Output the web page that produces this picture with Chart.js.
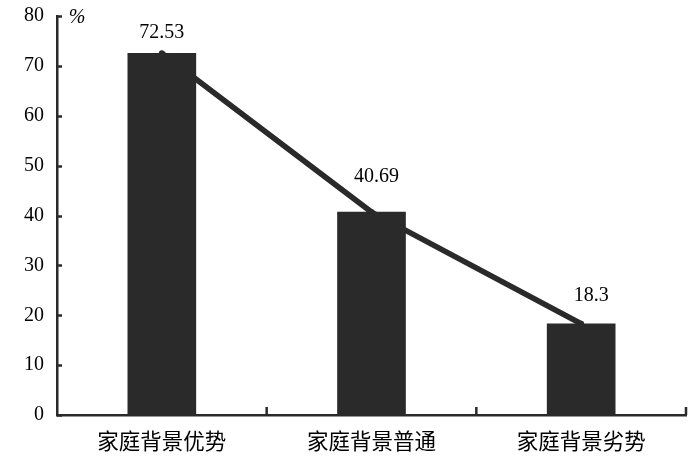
<!DOCTYPE html>
<html>
<head>
<meta charset="utf-8">
<script src="https://cdn.jsdelivr.net/npm/chart.js@4.4.0/dist/chart.umd.min.js"></script>
<style>
  html, body { margin: 0; padding: 0; background: #fff; }
  #wrap { width: 700px; height: 467px; }
</style>
</head>
<body>
<div id="wrap"><canvas id="chart" width="700" height="467"></canvas></div>
<script>
// Data
const categories = ['家庭背景优势', '家庭背景普通', '家庭背景劣势'];
const shares = [72.53, 40.69, 18.3];
const valueLabels = ['72.53', '40.69', '18.3'];
const yTicks = [0, 10, 20, 30, 40, 50, 60, 70, 80];

const ink = '#2a2a2a';
const serif = '"Liberation Serif", "Times New Roman", serif';

// Value labels above bars, "%" unit and inward tick marks
const decorations = {
  id: 'decorations',
  afterDatasetsDraw(chart, args, opts) {
    const ctx = chart.ctx;
    const x = chart.scales.x;
    const y = chart.scales.y;
    const area = chart.chartArea;
    ctx.save();

    // tick marks pointing into the plot
    ctx.strokeStyle = ink;
    ctx.lineWidth = 2.5;
    yTicks.forEach(v => {
      const py = Math.round(y.getPixelForValue(v)) + 0.5;
      ctx.beginPath();
      ctx.moveTo(area.left, py);
      ctx.lineTo(area.left + 5, py);
      ctx.stroke();
    });
    for (let i = 1; i <= categories.length; i++) {
      const px = x.getPixelForValue(i - 0.5);
      ctx.beginPath();
      ctx.moveTo(px, area.bottom);
      ctx.lineTo(px, area.bottom - 8);
      ctx.stroke();
    }

    // value labels
    ctx.fillStyle = '#000';
    ctx.font = '20px ' + serif;
    ctx.textAlign = 'center';
    ctx.textBaseline = 'middle';
    shares.forEach((v, i) => {
      const px = x.getPixelForValue(i) + opts.dx[i];
      const py = y.getPixelForValue(v) + opts.dy[i];
      ctx.fillText(valueLabels[i], px, py);
    });

    // unit
    ctx.font = 'italic 20px ' + serif;
    ctx.fillText('%', area.left + 20, area.top + 2);
    ctx.restore();
  }
};

new Chart(document.getElementById('chart'), {
  type: 'bar',
  data: {
    labels: categories,
    datasets: [
      {
        type: 'line',
        data: shares,
        borderColor: ink,
        borderWidth: 5.5,
        pointRadius: 3,
        pointBackgroundColor: ink,
        pointBorderWidth: 0,
        tension: 0,
        order: 0
      },
      {
        type: 'bar',
        data: shares,
        backgroundColor: ink,
        borderWidth: 0,
        barThickness: 68,
        order: 1
      }
    ]
  },
  options: {
    responsive: false,
    animation: false,
    layout: { padding: { top: 16, right: 14, left: 0, bottom: 0 } },
    plugins: {
      legend: { display: false },
      tooltip: { enabled: false },
      decorations: { dx: [0, 5, 10], dy: [-21, -35, -28] }
    },
    scales: {
      x: {
        grid: { display: false, drawTicks: false },
        border: { display: true, color: ink, width: 2.5 },
        ticks: {
          color: '#000',
          padding: 13,
          font: { family: '"Noto Sans CJK SC", sans-serif', size: 21.5 }
        },
        afterFit(scale) { scale.height = 52; scale.paddingLeft = 0; scale.paddingRight = 0; }
      },
      y: {
        min: 0,
        max: 80,
        grid: { display: false, drawTicks: false },
        border: { display: true, color: ink, width: 2.5 },
        afterBuildTicks(scale) { scale.ticks = yTicks.map(v => ({ value: v })); },
        ticks: {
          color: '#000',
          padding: 13,
          font: { family: serif, size: 20 }
        },
        afterFit(scale) { scale.width = 57; scale.paddingTop = 0; scale.paddingBottom = 0; }
      }
    }
  },
  plugins: [decorations]
});
</script>
</body>
</html>
